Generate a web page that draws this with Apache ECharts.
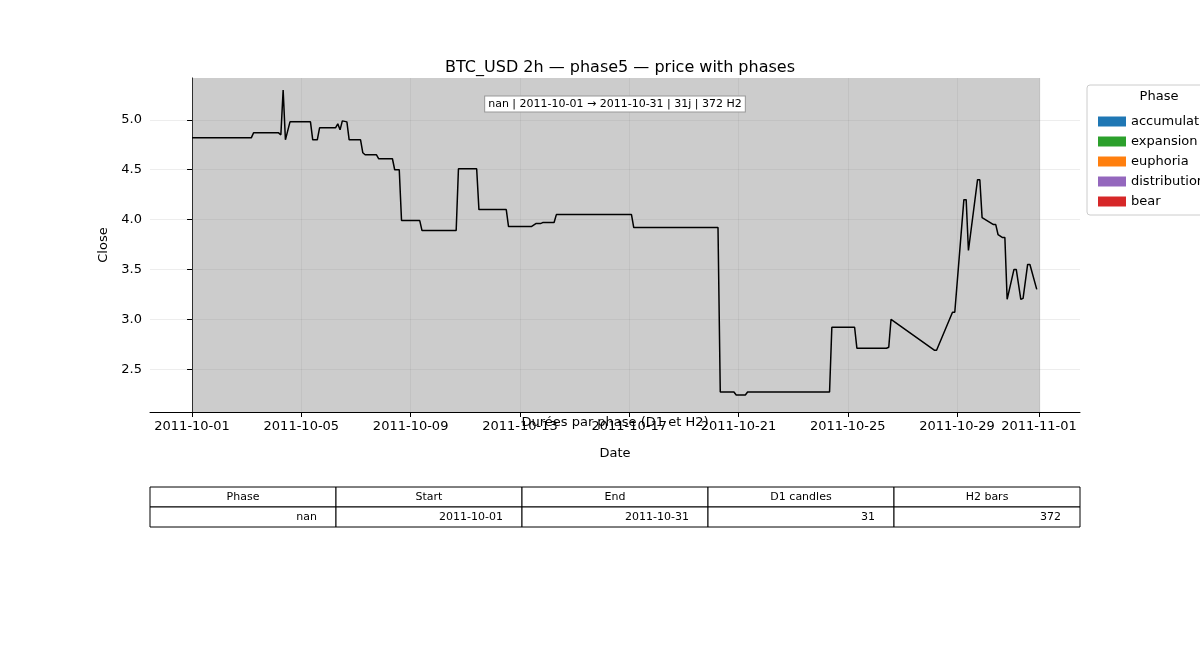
<!DOCTYPE html>
<html>
<head>
<meta charset="utf-8">
<script src="https://cdn.jsdelivr.net/npm/echarts@6/dist/echarts.min.js"></script>
<style>html,body{margin:0;padding:0;background:#fff}#main{width:1200px;height:650px}</style>
</head>
<body>
<div id="main"></div>
<script>
// hours since 2011-10-01 00:00 (H2 bars) and close values
var hours = [0,52,54,76,78,80,82,86,104,106,110,112,126,128,130,132,136,138,148,150,152,162,164,
  176,178,182,184,200,202,232,234,250,252,276,278,298,302,306,308,318,320,386,388,462,464,
  476,478,486,488,560,562,582,584,610,612,614,652,654,668,670,678,680,682,690,692,694,
  704,706,708,712,714,716,722,724,728,730,734,736,742];
var closes = [4.82,4.82,4.87,4.87,4.85,5.30,4.80,4.98,4.98,4.80,4.80,4.92,4.92,4.96,4.90,4.99,4.98,4.80,4.80,4.67,4.65,4.65,4.61,
  4.61,4.50,4.50,3.99,3.99,3.89,3.89,4.51,4.51,4.10,4.10,3.93,3.93,3.96,3.96,3.97,3.97,4.05,4.05,3.92,3.92,2.27,
  2.27,2.24,2.24,2.27,2.27,2.92,2.92,2.71,2.71,2.72,3.00,2.69,2.69,3.07,3.07,4.20,4.20,3.69,4.40,4.40,4.02,3.95,
  3.95,3.85,3.82,3.82,3.20,3.50,3.50,3.20,3.21,3.55,3.55,3.30,3.30];
var xTickDays = [0,4,8,12,16,20,24,28,31];
var yTicks = [2.5,3.0,3.5,4.0,4.5,5.0];
var phases = ['accumulation','expansion','euphoria','distribution','bear'];
var phaseColors = ['#1f77b4','#2ca02c','#ff7f0e','#9467bd','#d62728'];
var tableHeader = ['Phase','Start','End','D1 candles','H2 bars'];
var tableRow = ['nan','2011-10-01','2011-10-31','31','372'];

var dom = document.getElementById('main');
var myChart = echarts.init(dom);

function dayLabel(d) {
  var t = new Date(Date.UTC(2011, 9, 1) + Math.round(d) * 86400000);
  var m = t.getUTCMonth() + 1, dd = t.getUTCDate();
  return t.getUTCFullYear() + '-' + (m < 10 ? '0' : '') + m + '-' + (dd < 10 ? '0' : '') + dd;
}

var lineData = hours.map(function (h, i) { return [h / 24, closes[i]]; });

var gridL = 150, gridR = 1080, tableTop = 487, rowH = 20;
var colW = (gridR - gridL) / tableHeader.length;
var graphics = [];
tableHeader.forEach(function (h, i) {
  var x = gridL + i * colW;
  graphics.push({ type: 'rect', shape: { x: x, y: tableTop, width: colW, height: rowH },
    style: { fill: '#fff', stroke: '#000', lineWidth: 1 } });
  graphics.push({ type: 'text', x: x + colW / 2, y: tableTop + rowH / 2,
    style: { text: h, font: '11px DejaVu Sans', fill: '#000', align: 'center', verticalAlign: 'middle' } });
  graphics.push({ type: 'rect', shape: { x: x, y: tableTop + rowH, width: colW, height: rowH },
    style: { fill: '#fff', stroke: '#000', lineWidth: 1 } });
  graphics.push({ type: 'text', x: x + colW - 19, y: tableTop + rowH * 1.5,
    style: { text: tableRow[i], font: '11px DejaVu Sans', fill: '#000', align: 'right', verticalAlign: 'middle' } });
});
graphics.push({ type: 'text', x: 615, y: 423,
  style: { text: 'Durées par phase (D1 et H2)', font: '13px DejaVu Sans', fill: '#000', align: 'center', verticalAlign: 'middle' } });
graphics.push({ type: 'text', x: 615, y: 104, z: 10,
  style: { text: 'nan | 2011-10-01 → 2011-10-31 | 31j | 372 H2', font: '11px DejaVu Sans', fill: '#000',
    align: 'center', verticalAlign: 'middle', backgroundColor: '#fff', borderColor: '#999', borderWidth: 1, padding: [2, 3] } });
graphics.push({ type: 'rect', shape: { x: 1087, y: 85, width: 130, height: 130, r: 3 },
  style: { fill: '#fff', stroke: '#ccc', lineWidth: 1 } });
graphics.push({ type: 'text', x: 1159, y: 97,
  style: { text: 'Phase', font: '13px DejaVu Sans', fill: '#000', align: 'center', verticalAlign: 'middle' } });

var series = [{
  name: 'Close', type: 'line', data: lineData, showSymbol: false, z: 5,
  lineStyle: { color: '#000', width: 1.5 }, itemStyle: { color: '#000' },
  markArea: { silent: true, itemStyle: { color: 'rgba(128,128,128,0.4)' },
    data: [[{ xAxis: 0 }, { xAxis: 31.04 }]] }
}];
phases.forEach(function (p, i) {
  series.push({ name: p, type: 'bar', data: [], itemStyle: { color: phaseColors[i] } });
});

option = {
  animation: false,
  title: { text: 'BTC_USD 2h — phase5 — price with phases', left: 615, top: 55, textAlign: 'center',
    textStyle: { fontFamily: 'DejaVu Sans', fontSize: 16, fontWeight: 'normal', color: '#000' } },
  legend: { data: phases, orient: 'vertical', left: 1093, top: 110, itemWidth: 28, itemHeight: 10, itemGap: 7,
    icon: 'rect', textStyle: { fontFamily: 'DejaVu Sans', fontSize: 13, color: '#000' } },
  graphic: graphics,
  grid: { left: gridL, right: 1200 - gridR, top: 78, bottom: 650 - 412 },
  xAxis: {
    type: 'value', min: -1.54, max: 32.5, name: 'Date', nameLocation: 'middle', nameGap: 35,
    nameTextStyle: { fontFamily: 'DejaVu Sans', fontSize: 13, color: '#000' },
    axisLine: { onZero: false, lineStyle: { color: '#000' } },
    axisTick: { show: true, customValues: xTickDays, lineStyle: { color: '#000' } },
    axisLabel: { customValues: xTickDays, formatter: dayLabel, fontFamily: 'DejaVu Sans', fontSize: 13, color: '#000', margin: 8 },
    splitLine: { show: true, lineStyle: { color: 'rgba(0,0,0,0.07)' } }
  },
  yAxis: {
    type: 'value', min: 2.07, max: 5.42, name: 'Close', nameLocation: 'middle', nameGap: 40,
    nameTextStyle: { fontFamily: 'DejaVu Sans', fontSize: 13, color: '#000' },
    axisLine: { show: true, lineStyle: { color: '#000' } },
    axisTick: { show: true, customValues: yTicks, lineStyle: { color: '#000' } },
    axisLabel: { customValues: yTicks, formatter: function (v) { return v.toFixed(1); },
      fontFamily: 'DejaVu Sans', fontSize: 13, color: '#000' },
    splitLine: { show: true, lineStyle: { color: 'rgba(0,0,0,0.07)' } }
  },
  series: series
};

if (option && typeof option === "object") {
  myChart.setOption(option, true);
}
</script>
</body>
</html>
